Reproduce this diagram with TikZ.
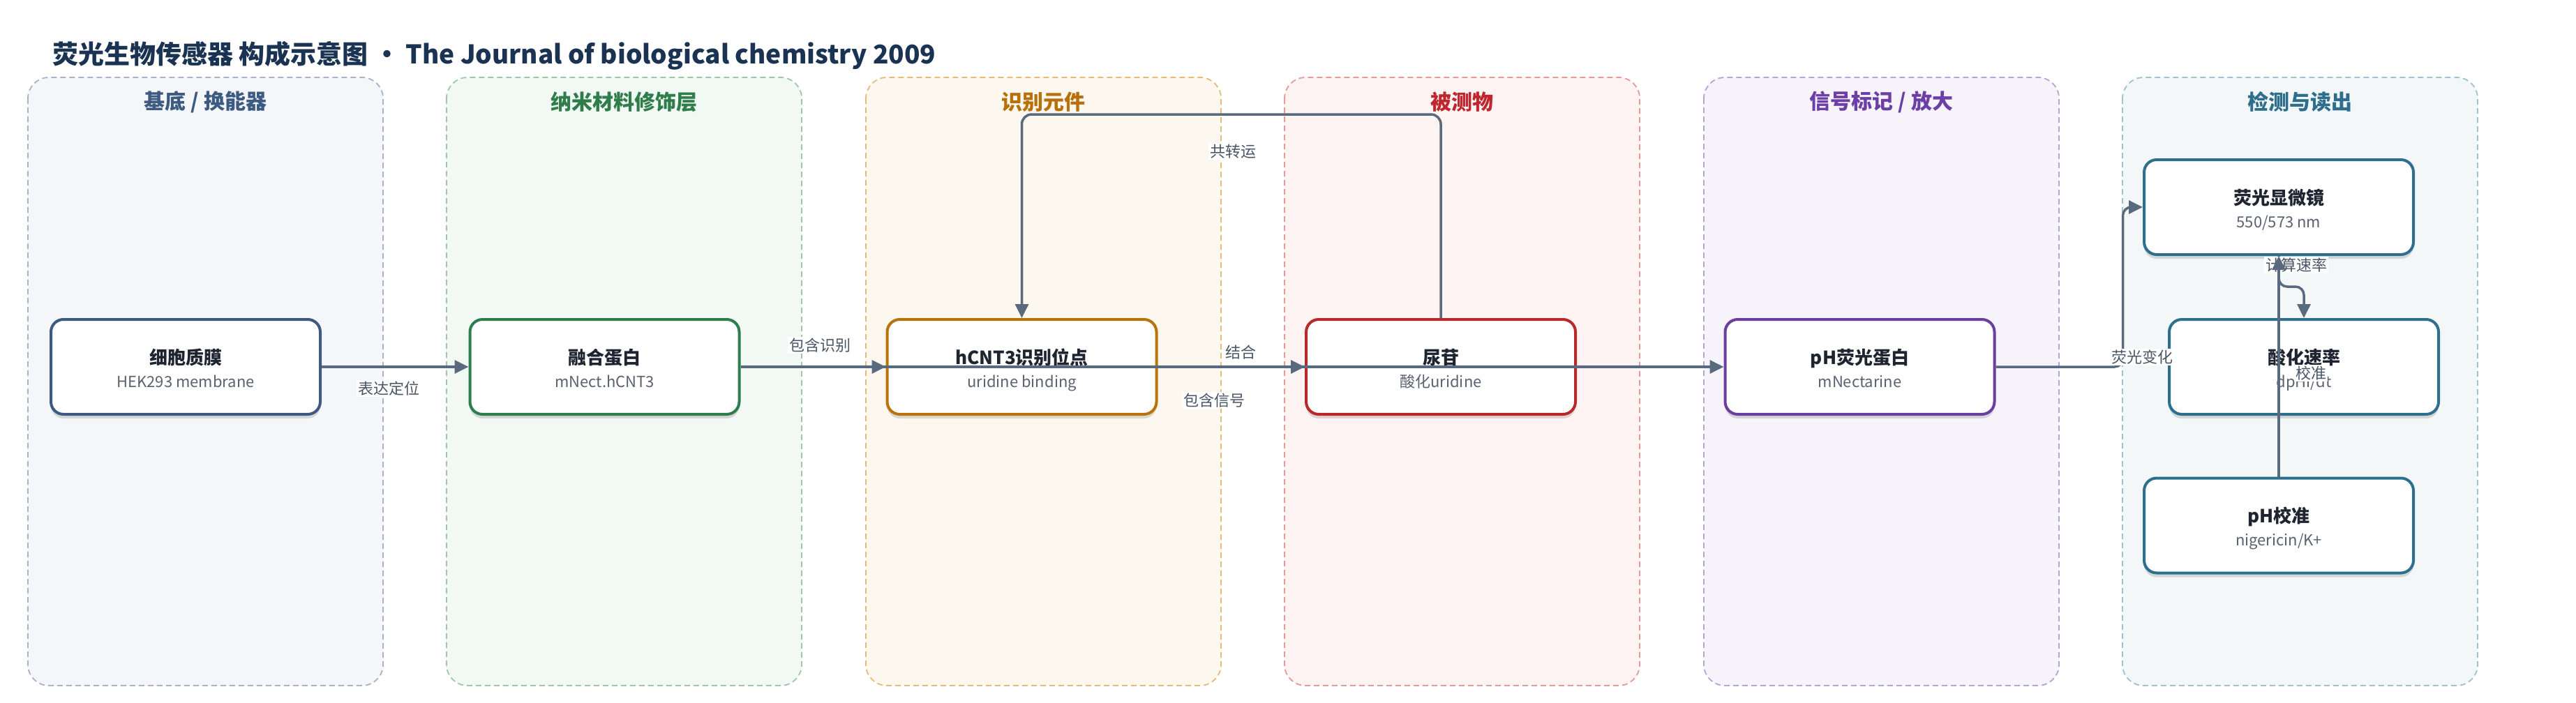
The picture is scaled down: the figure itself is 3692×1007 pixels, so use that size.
\documentclass[tikz,border=0pt]{standalone}
\usepackage{fontspec}
\setmainfont{Noto Sans CJK SC}
\usetikzlibrary{arrows.meta,shadows}
\definecolor{titlec}{HTML}{1B3352}
\definecolor{edgec}{HTML}{5A6A7E}
\definecolor{labc}{HTML}{4A5565}
\definecolor{ntc}{HTML}{1E2530}
\definecolor{nsc}{HTML}{5A6270}
% panel header / fill / border
\definecolor{hA}{HTML}{3D5A80}\definecolor{fA}{HTML}{F5F6FA}\definecolor{bA}{HTML}{A7B4C8}
\definecolor{hB}{HTML}{2E7D4A}\definecolor{fB}{HTML}{F2F8F3}\definecolor{bB}{HTML}{9CC8A8}
\definecolor{hC}{HTML}{B8700A}\definecolor{fC}{HTML}{FDF8EF}\definecolor{bC}{HTML}{E6BB7A}
\definecolor{hD}{HTML}{C0262D}\definecolor{fD}{HTML}{FDF3F2}\definecolor{bD}{HTML}{E49A98}
\definecolor{hE}{HTML}{6B3FA5}\definecolor{fE}{HTML}{F6F3FB}\definecolor{bE}{HTML}{B9A2D8}
\definecolor{hF}{HTML}{2D6E8C}\definecolor{fF}{HTML}{F3F7F8}\definecolor{bF}{HTML}{9FC2CD}
% node borders
\definecolor{kA}{HTML}{3D5A80}
\definecolor{kB}{HTML}{2E7D4F}
\definecolor{kC}{HTML}{B8740A}
\definecolor{kD}{HTML}{B82A2A}
\definecolor{kE}{HTML}{6A3FA0}
\definecolor{kF}{HTML}{2E6F8E}
\begin{document}
\begin{tikzpicture}[x=1pt,y=-1pt,
  panelbox/.style={dash pattern=on 8pt off 5pt, line width=1.8pt, rounded corners=30pt},
  phead/.style={font=\fontsize{30}{36}\selectfont\bfseries, anchor=center},
  nbox/.style={draw=#1, line width=4pt, rounded corners=18pt, fill=white,
    minimum width=386pt, minimum height=136pt, inner sep=0pt,
    drop shadow={shadow xshift=0pt, shadow yshift=-6pt, opacity=0.13, fill=black}},
  ntitle/.style={font=\fontsize{26}{31}\selectfont\bfseries, text=ntc, anchor=base, inner sep=0pt},
  nsub/.style={font=\fontsize{22}{27}\selectfont, text=nsc, anchor=base, inner sep=0pt},
  conn/.style={draw=edgec, line width=3.5pt, -{Triangle[length=20pt,width=19pt]}},
  elabel/.style={font=\fontsize{22}{26}\selectfont, text=labc, fill=white, inner sep=2pt}
]
\useasboundingbox[fill=white] (0,0) rectangle (3692,1007);

% panels
\draw[panelbox, draw=bA, fill=fA] (40,111) rectangle (549,983);
\draw[panelbox, draw=bB, fill=fB] (640,111) rectangle (1149,983);
\draw[panelbox, draw=bC, fill=fC] (1241,111) rectangle (1750,983);
\draw[panelbox, draw=bD, fill=fD] (1841,111) rectangle (2350,983);
\draw[panelbox, draw=bE, fill=fE] (2442,111) rectangle (2951,983);
\draw[panelbox, draw=bF, fill=fF] (3042,111) rectangle (3551,983);

\node[phead, text=hA] (pA) at (294.5,146) {基底 / 换能器};
\node[phead, text=hB] (pB) at (894.5,146) {纳米材料修饰层};
\node[phead, text=hC] (pC) at (1495.5,146) {识别元件};
\node[phead, text=hD] (pD) at (2095.5,146) {被测物};
\node[phead, text=hE] (pE) at (2696.5,146) {信号标记 / 放大};
\node[phead, text=hF] (pF) at (3296.5,146) {检测与读出};

% title
\node[anchor=west, inner sep=0pt, text=titlec, font=\fontsize{37}{44}\selectfont\bfseries] (title) at (75,80)
  {荧光生物传感器 构成示意图 • The Journal of biological chemistry 2009};

% nodes
\node[nbox=kA] (n1) at (266,526) {};
\node[nbox=kB] (n2) at (866.5,526) {};
\node[nbox=kC] (n3) at (1464.5,526) {};
\node[nbox=kD] (n4) at (2065,526) {};
\node[nbox=kE] (n5) at (2665.5,526) {};
\node[nbox=kF] (n6) at (3266,297) {};
\node[nbox=kF] (n7) at (3302,526) {};
\node[nbox=kF] (n8) at (3266,753.5) {};

\node[ntitle] (n1t) at ([yshift=4pt]n1.center) {细胞质膜};
\node[nsub]   (n1s) at ([yshift=-29pt]n1.center) {HEK293 membrane};
\node[ntitle] (n2t) at ([yshift=4pt]n2.center) {融合蛋白};
\node[nsub]   (n2s) at ([yshift=-29pt]n2.center) {mNect.hCNT3};
\node[ntitle] (n3t) at ([yshift=4pt]n3.center) {hCNT3识别位点};
\node[nsub]   (n3s) at ([yshift=-29pt]n3.center) {uridine binding};
\node[ntitle] (n4t) at ([yshift=4pt]n4.center) {尿苷};
\node[nsub]   (n4s) at ([yshift=-29pt]n4.center) {酸化uridine};
\node[ntitle] (n5t) at ([yshift=4pt]n5.center) {pH荧光蛋白};
\node[nsub]   (n5s) at ([yshift=-29pt]n5.center) {mNectarine};
\node[ntitle] (n6t) at ([yshift=4pt]n6.center) {荧光显微镜};
\node[nsub]   (n6s) at ([yshift=-29pt]n6.center) {550/573 nm};
\node[ntitle] (n7t) at ([yshift=4pt]n7.center) {酸化速率};
\node[nsub]   (n7s) at ([yshift=-29pt]n7.center) {dpHi/dt};
\node[ntitle] (n8t) at ([yshift=4pt]n8.center) {pH校准};
\node[nsub]   (n8s) at ([yshift=-29pt]n8.center) {nigericin/K+};

% connectors
\draw[conn] (n1.east) -- (n2.west);
\node[elabel] (l1) at (557,557) {表达定位};
\draw[conn] (n2.east) -- (n3.west);
\node[elabel] (l2) at (1175,495) {包含识别};
\draw[conn] (n3.east) -- (n4.west);
\node[elabel] (l3) at (1778,505) {结合};
\draw[conn] (n2.east) -- (n5.west);
\node[elabel] (l4) at (1740,574) {包含信号};
\draw[conn, rounded corners=14pt] (n4.north) -- ++(0,-292) -| (n3.north);
\node[elabel] (l5) at (1767,217) {共转运};
\draw[conn, rounded corners=12pt] (n5.east) -- ++(182,0) |- (n6.west);
\node[elabel] (l6) at (3070,512) {荧光变化};
\draw[conn, rounded corners=12pt] (n6.south) -- ++(0,44) -| (n7.north);
\node[elabel] (l7) at (3291,380) {计算速率};
\draw[conn] (n8.north) -- (n6.south);
\node[elabel] (l8) at (3312,535) {校准};
\end{tikzpicture}
\end{document}
